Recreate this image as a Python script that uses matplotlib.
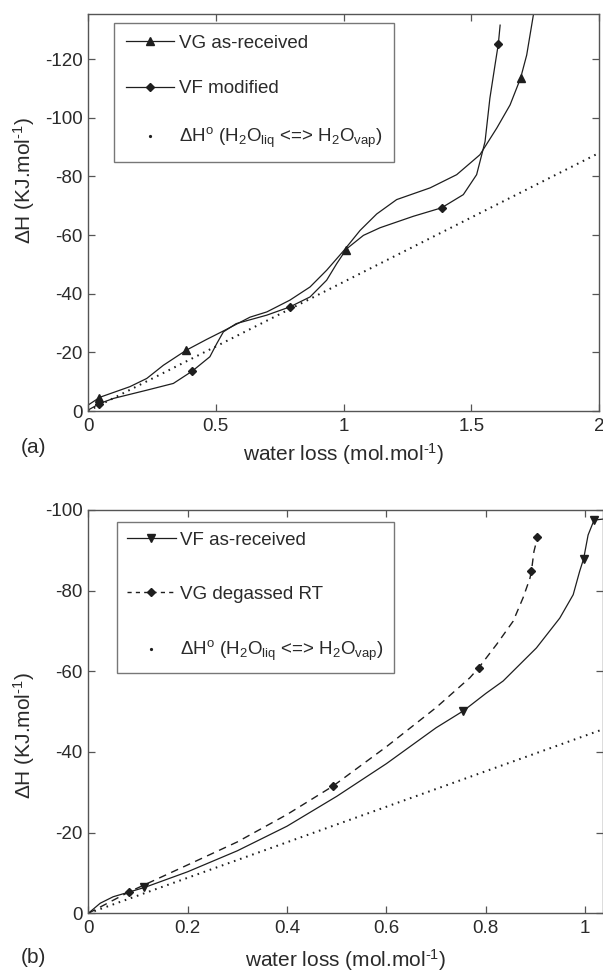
import matplotlib
matplotlib.use("Agg")
import matplotlib.pyplot as plt
from matplotlib.lines import Line2D

plt.rcParams['font.family'] = ['Liberation Sans', 'DejaVu Sans']
plt.rcParams['mathtext.fontset'] = 'custom'
plt.rcParams['mathtext.rm'] = 'Liberation Sans'
plt.rcParams['mathtext.it'] = 'Liberation Sans:italic'
plt.rcParams['mathtext.bf'] = 'Liberation Sans:bold'
plt.rcParams['axes.unicode_minus'] = False

# ---------------- panel (a) ----------------
vg_recv_x = [0, 0.047, 0.164, 0.23, 0.295, 0.384, 0.464, 0.53, 0.634, 0.70, 0.79,
             0.869, 0.934, 1.0, 1.065, 1.13, 1.208, 1.339, 1.443, 1.534, 1.6,
             1.652, 1.693, 1.717, 1.743]
vg_recv_y = [-2.0, -4.7, -8.3, -11.1, -15.6, -20.7, -24.4, -27.3, -32.0, -33.8, -37.8,
             -42.3, -48.0, -54.6, -61.6, -67.2, -72.1, -76.1, -80.6, -87.4, -96.5,
             -104.4, -113.5, -121.4, -135.0]
vg_recv_mx = [0.042, 0.384, 1.01, 1.693]
vg_recv_my = [-4.5, -20.7, -55.0, -113.5]

vf_mod_x = [0, 0.047, 0.1, 0.23, 0.334, 0.408, 0.477, 0.504, 0.53, 0.58, 0.70, 0.79,
            0.869, 0.934, 0.973, 1.012, 1.078, 1.143, 1.273, 1.384, 1.469, 1.521,
            1.541, 1.554, 1.573, 1.593, 1.606, 1.613]
vf_mod_y = [-0.3, -2.6, -4.3, -7.1, -9.4, -13.6, -18.5, -23.0, -27.0, -29.8, -32.7, -35.5,
            -38.9, -44.6, -50.2, -55.3, -59.9, -62.5, -66.4, -69.3, -73.8, -80.6,
            -87.4, -91.9, -106.7, -118.0, -125.2, -131.6]
vf_mod_mx = [0.042, 0.408, 0.79, 1.384, 1.606]
vf_mod_my = [-2.5, -13.6, -35.5, -69.3, -125.2]

vap_a_x = [0, 2]
vap_a_y = [0, -88]

xticks_a = [0, 0.5, 1, 1.5, 2]
xticklabels_a = ['0', '0.5', '1', '1.5', '2']

# ---------------- panel (b) ----------------
vf_recv_x = [0, 0.024, 0.05, 0.113, 0.2, 0.3, 0.4, 0.5, 0.6, 0.7, 0.755, 0.8,
             0.835, 0.902, 0.949, 0.976, 0.989, 0.997, 1.006, 1.018, 1.04]
vf_recv_y = [0, -2.5, -4.1, -6.4, -10.3, -15.5, -21.6, -29.0, -37.1, -46.0, -50.2, -54.5,
             -57.6, -65.8, -73.2, -79.0, -84.8, -87.9, -93.8, -97.5, -97.8]
vf_recv_mx = [0.113, 0.755, 0.997, 1.018]
vf_recv_my = [-6.4, -50.2, -87.9, -97.5]

vg_degas_x = [0, 0.082, 0.2, 0.3, 0.4, 0.492, 0.6, 0.7, 0.768, 0.786, 0.822, 0.855,
              0.875, 0.889, 0.892, 0.897, 0.904]
vg_degas_y = [0, -5.3, -12.0, -17.7, -24.5, -31.5, -41.3, -51.0, -58.4, -60.9, -66.7, -72.4,
              -78.2, -83.1, -84.9, -89.7, -93.2]
vg_degas_mx = [0.082, 0.492, 0.786, 0.892, 0.904]
vg_degas_my = [-5.3, -31.5, -60.9, -84.9, -93.2]

vap_b_x = [0, 1.04]
vap_b_y = [0, -45.8]

xticks_b = [0, 0.2, 0.4, 0.6, 0.8, 1.0]
xticklabels_b = ['0', '0.2', '0.4', '0.6', '0.8', '1']

line_c = '#1e1e1e'
spine_c = '#555555'
text_c = '#2a2a2a'
FS = 13.5
LFS = 15

fig = plt.figure(figsize=(6.03, 9.72), dpi=100)
ax_a = fig.add_axes([88 / 603, 1 - 411 / 972, 511 / 603, 397 / 972])
ax_b = fig.add_axes([88.3 / 603, 1 - 913.3 / 972, (603 - 88.3) / 603, 403.3 / 972])

dot_style = (0, (0.8, 2.4))
SUP = '$^{\\rm \u20101}$'


def style_axes(ax, xticks, xlabels, yticks):
    ax.set_xticks(xticks)
    ax.set_xticklabels(xlabels)
    ax.set_yticks(yticks)
    ax.set_yticklabels([str(int(v)) for v in yticks])
    ax.tick_params(direction='in', length=5, width=0.9, colors=spine_c,
                   labelcolor=text_c, labelsize=FS, top=True, right=True, pad=4)
    ax.tick_params(axis='x', pad=5)
    for s in ax.spines.values():
        s.set_color(spine_c)
        s.set_linewidth(1.0)
    ax.set_xlabel('water loss (mol.mol' + SUP + ')', fontsize=LFS, color=text_c)
    ax.set_ylabel('ΔH (KJ.mol' + SUP + ')', fontsize=LFS, color=text_c)


# panel (a)
ax_a.plot(vg_recv_x, vg_recv_y, color=line_c, lw=0.9)
ax_a.plot(vg_recv_mx, vg_recv_my, ls='none', marker='^', ms=6, color=line_c)
ax_a.plot(vf_mod_x, vf_mod_y, color=line_c, lw=0.9)
ax_a.plot(vf_mod_mx, vf_mod_my, ls='none', marker='D', ms=4.5, color=line_c)
ax_a.plot(vap_a_x, vap_a_y, color=line_c, lw=1.45, ls=dot_style)
ax_a.set_xlim(0, 2)
ax_a.set_ylim(0, -135.4)
style_axes(ax_a, xticks_a, xticklabels_a, [0, -20, -40, -60, -80, -100, -120])
ax_a.yaxis.set_label_coords(-0.1, 0.58)
ax_a.xaxis.set_label_coords(0.5, -0.076)
fig.text(33 / 603, 1 - 447 / 972, '(a)', fontsize=LFS, color=text_c,
         ha='center', va='center')

handles_a = [
    Line2D([], [], color=line_c, lw=0.9, marker='^', ms=6),
    Line2D([], [], color=line_c, lw=0.9, marker='D', ms=4.5),
    Line2D([], [], ls='none', marker='o', ms=1.3, color=line_c),
]
labels_a = ['VG as-received', 'VF modified',
            'ΔH$^{\\rm o}$ (H$_{\\rm 2}$O$_{\\rm liq}$ <=> H$_{\\rm 2}$O$_{\\rm vap}$)']

# panel (b)
ax_b.plot(vf_recv_x, vf_recv_y, color=line_c, lw=0.9)
ax_b.plot(vf_recv_mx, vf_recv_my, ls='none', marker='v', ms=6, color=line_c)
ax_b.plot(vg_degas_x, vg_degas_y, color=line_c, lw=1.0, ls=(0, (5.5, 4)))
ax_b.plot(vg_degas_mx, vg_degas_my, ls='none', marker='D', ms=4.5, color=line_c)
ax_b.plot(vap_b_x, vap_b_y, color=line_c, lw=1.45, ls=dot_style)
ax_b.set_xlim(0, 1.036)
ax_b.set_ylim(0, -100)
style_axes(ax_b, xticks_b, xticklabels_b, [0, -20, -40, -60, -80, -100])
ax_b.yaxis.set_label_coords(-0.1, 0.44)
ax_b.xaxis.set_label_coords(0.5, -0.084)
fig.text(33 / 603, 1 - 957 / 972, '(b)', fontsize=LFS, color=text_c,
         ha='center', va='center')

handles_b = [
    Line2D([], [], color=line_c, lw=0.9, marker='v', ms=6),
    Line2D([], [], color=line_c, lw=1.0, ls=(0, (3, 3)), marker='D', ms=4.5),
    Line2D([], [], ls='none', marker='o', ms=1.3, color=line_c),
]
labels_b = ['VF as-received', 'VG degassed RT',
            'ΔH$^{\\rm o}$ (H$_{\\rm 2}$O$_{\\rm liq}$ <=> H$_{\\rm 2}$O$_{\\rm vap}$)']

legend_specs = [
    (ax_a, handles_a, labels_a, (114, 23), 1.52, 0.62),
    (ax_b, handles_b, labels_b, (117, 522), 1.95, 0.52),
]
for ax, h, l, box, spacing, pad in legend_specs:
    fx = box[0] / 603
    fy = 1 - box[1] / 972
    leg = ax.legend(h, l, loc='upper left',
                    bbox_to_anchor=(fx, fy), bbox_transform=fig.transFigure,
                    borderaxespad=0, frameon=True, fancybox=False,
                    edgecolor=spine_c, fontsize=FS, labelspacing=spacing,
                    handlelength=2.6, handletextpad=0.25, borderpad=pad,
                    labelcolor=text_c)
    leg.get_frame().set_linewidth(1.0)

fig.savefig('out.png', dpi=100)
